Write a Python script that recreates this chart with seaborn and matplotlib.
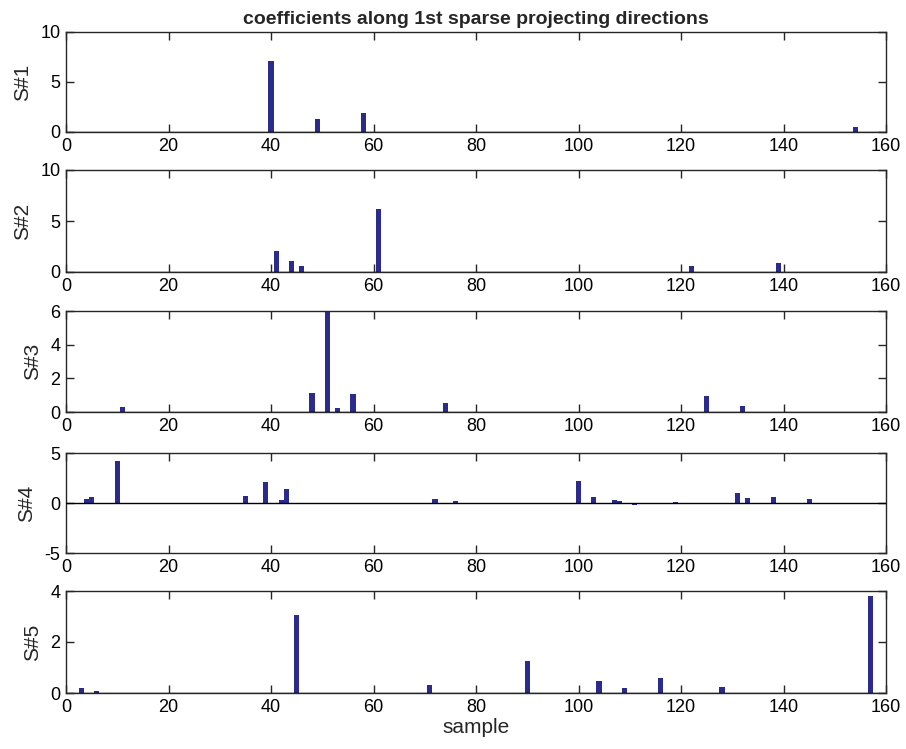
import numpy as np
import pandas as pd
import matplotlib
matplotlib.use("Agg")
import matplotlib.pyplot as plt
import seaborn as sns

sns.set_theme(style="white")
plt.rcParams['font.family'] = ['Liberation Sans', 'DejaVu Sans']

n_samples = 160
title = "coefficients along 1st sparse projecting directions"
panel_labels = ["S#1", "S#2", "S#3", "S#4", "S#5"]

s1_idx = [40, 49, 52, 58, 154]
s1_val = [7.1, 1.35, 0.05, 1.9, 0.5]

s2_idx = [41, 44, 46, 61, 122, 139]
s2_val = [2.05, 1.05, 0.55, 6.2, 0.55, 0.9]

s3_idx = [11, 48, 51, 53, 56, 74, 125, 132]
s3_val = [0.3, 1.15, 6.0, 0.25, 1.05, 0.55, 0.95, 0.35]

s4_idx = [4, 5, 10, 35, 39, 42, 43, 72, 76, 100, 103, 107, 108, 111, 119, 131, 133, 138, 145]
s4_val = [0.43, 0.57, 4.25, 0.72, 2.1, 0.33, 1.37, 0.43, 0.23, 2.2, 0.6, 0.33, 0.23, -0.15, 0.1, 1.0, 0.5, 0.63, 0.37]

s5_idx = [3, 6, 45, 71, 90, 104, 109, 116, 128, 157]
s5_val = [0.21, 0.07, 3.05, 0.3, 1.24, 0.46, 0.2, 0.59, 0.25, 3.8]

series = [(s1_idx, s1_val), (s2_idx, s2_val), (s3_idx, s3_val), (s4_idx, s4_val), (s5_idx, s5_val)]
ylims = [(0, 10), (0, 10), (0, 6), (-5, 5), (0, 4)]
yticks = [[0, 5, 10], [0, 5, 10], [0, 2, 4, 6], [-5, 0, 5], [0, 2, 4]]
xticks = [0, 20, 40, 60, 80, 100, 120, 140, 160]

bar_color = "#2b2b8e"

W, H = 906, 749
fig = plt.figure(figsize=(W / 100, H / 100), dpi=100)
# panel pixel extents (top, bottom)
panel_px = [(32, 132), (170, 272), (311, 412), (453, 553), (591, 693)]
left_px, right_px = 66, 886

for i, ((idx, val), (ptop, pbot)) in enumerate(zip(series, panel_px)):
    ax = fig.add_axes([left_px / W, 1 - pbot / H, (right_px - left_px) / W, (pbot - ptop) / H])
    full = np.zeros(n_samples)
    for k, v in zip(idx, val):
        full[k - 1] = v
    df = pd.DataFrame({"sample": np.arange(1, n_samples + 1), "value": full})
    sns.barplot(data=df, x="sample", y="value", native_scale=True, orient="x",
                color=bar_color, saturation=1, width=1.0, errorbar=None,
                linewidth=0, ax=ax)
    ax.axhline(0, color="black", lw=1.0, zorder=3)
    ax.set_xlim(0, 160)
    ax.set_ylim(*ylims[i])
    ax.set_xticks(xticks)
    ax.set_yticks(yticks[i])
    ax.set_xticklabels([str(t) for t in xticks])
    ax.set_yticklabels([str(t) for t in yticks[i]])
    ax.tick_params(direction="in", length=6, width=1.0, top=True, right=True,
                   bottom=True, left=True, labelsize=13, colors="#262626",
                   labelcolor="black", pad=4)
    for sp in ax.spines.values():
        sp.set_visible(True)
        sp.set_color("#262626")
        sp.set_linewidth(1.0)
    ax.set_ylabel(panel_labels[i], fontsize=15, labelpad=6)
    ax.set_xlabel("sample" if i == 4 else "", fontsize=15, labelpad=2)
    if i == 0:
        ax.set_title(title, fontsize=14, fontweight="bold", pad=6)

fig.savefig("out.png", dpi=100)
